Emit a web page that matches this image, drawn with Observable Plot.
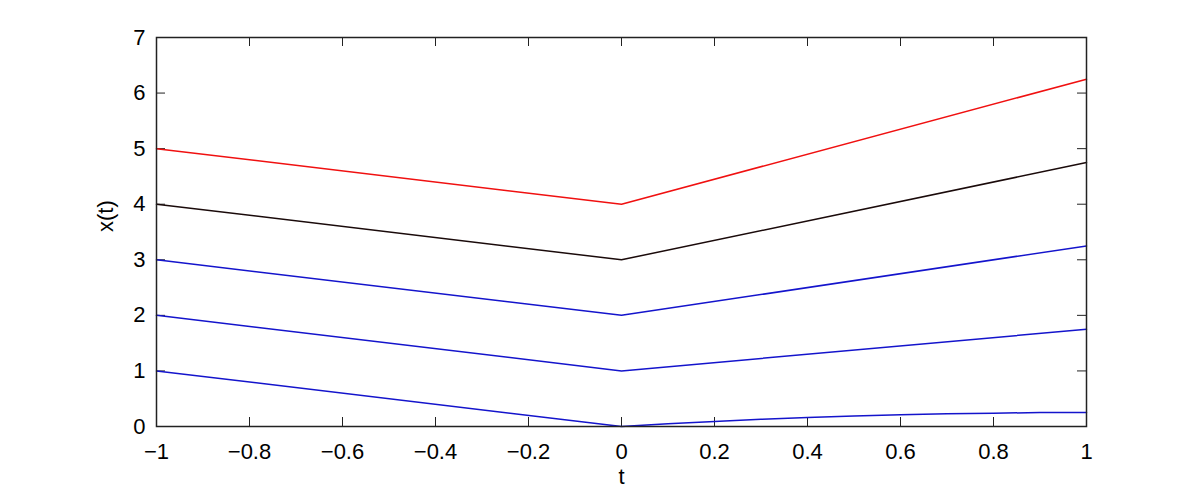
<!DOCTYPE html>
<html>
<head>
<meta charset="utf-8">
<script src="https://cdn.jsdelivr.net/npm/d3@7"></script>
<script src="https://cdn.jsdelivr.net/npm/@observablehq/plot@0.6"></script>
<style>
  html, body { margin: 0; padding: 0; background: #fff; }
  #chart svg { display: block; }
</style>
</head>
<body>
<div id="chart"></div>
<script>
// Data
const tKnots = [-1, 0, 1];
const redSeries = [5, 4, 6.25];
const blackSeries = [4, 3, 4.75];
const blueSeries3 = [3, 2, 3.25];
const blueSeries2 = [2, 1, 1.75];
const tLow = [-1, 0, 0.1, 0.2, 0.3, 0.4, 0.5, 0.6, 0.7, 0.8, 0.9, 1];
const blueSeries1 = [1, 0, 0.05, 0.09, 0.13, 0.16, 0.19, 0.21, 0.23, 0.24, 0.25, 0.25];

const xTicks = [-1, -0.8, -0.6, -0.4, -0.2, 0, 0.2, 0.4, 0.6, 0.8, 1];
const yTicks = [0, 1, 2, 3, 4, 5, 6, 7];

const series = [
  {name: "s1", color: "#1414cc", t: tLow, v: blueSeries1},
  {name: "s2", color: "#1414cc", t: tKnots, v: blueSeries2},
  {name: "s3", color: "#1414cc", t: tKnots, v: blueSeries3},
  {name: "s4", color: "#1a0a0a", t: tKnots, v: blackSeries},
  {name: "s5", color: "#f01010", t: tKnots, v: redSeries}
];
const rows = series.flatMap(s => s.t.map((t, i) => ({t, v: s.v[i], name: s.name, color: s.color})));

const W = 1200, H = 493;
const mL = 156, mR = 114, mT = 37, mB = 67;
const plotH = H - mT - mB, plotW = W - mL - mR;
const tickLen = 9;
const fontFamily = "'Liberation Sans', Arial, Helvetica, sans-serif";
const fs = 22;

const chart = Plot.plot({
  width: W,
  height: H,
  marginLeft: mL,
  marginRight: mR,
  marginTop: mT,
  marginBottom: mB,
  style: {fontFamily, fontSize: fs + "px", color: "#000", background: "#fff"},
  x: {domain: [-1, 1]},
  y: {domain: [0, 7]},
  marks: [
    Plot.axisX(xTicks, {tickSize: 0, tickPadding: 17, tickFormat: d => (d < 0 ? "\u2212" : "") + String(Math.abs(d)), label: null, fontSize: fs, fill: "#000"}),
    Plot.axisY(yTicks, {tickSize: 0, tickPadding: 11, tickFormat: d => String(d), label: null, fontSize: fs, fill: "#000"}),
    Plot.tickX(xTicks, {x: d => d, insetTop: plotH - tickLen, stroke: "#222", strokeWidth: 1}),
    Plot.tickX(xTicks, {x: d => d, insetBottom: plotH - tickLen, stroke: "#222", strokeWidth: 1}),
    Plot.tickY(yTicks, {y: d => d, insetRight: plotW - tickLen, stroke: "#222", strokeWidth: 1}),
    Plot.tickY(yTicks, {y: d => d, insetLeft: plotW - tickLen, stroke: "#222", strokeWidth: 1}),
    Plot.line(rows, {x: "t", y: "v", z: "name", stroke: "color", strokeWidth: 1.5}),
    Plot.frame({stroke: "#222", strokeWidth: 1.5}),
    Plot.text(["t"], {frameAnchor: "bottom", lineAnchor: "top", dy: 42, fontSize: fs, fill: "#000"}),
    Plot.text(["x(t)"], {frameAnchor: "left", dx: -51, dy: 0, rotate: -90, fontSize: fs, fill: "#000"})
  ]
});
document.getElementById("chart").appendChild(chart);
</script>
</body>
</html>
